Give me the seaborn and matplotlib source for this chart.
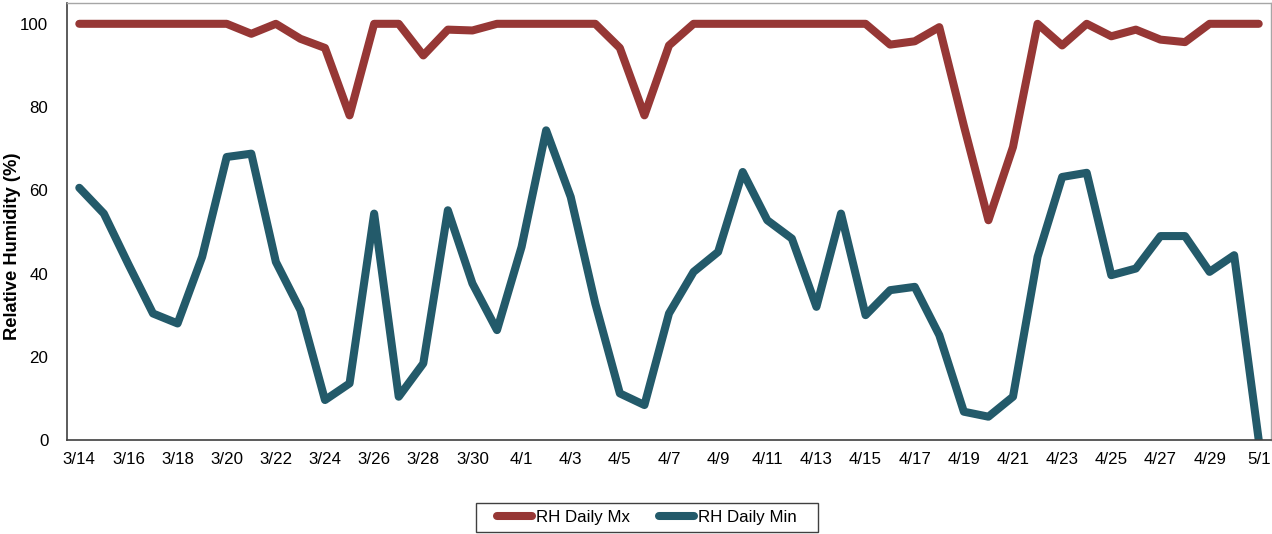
import matplotlib
matplotlib.use("Agg")
import matplotlib.pyplot as plt
from matplotlib.patches import Rectangle
import numpy as np
import pandas as pd
import seaborn as sns

# Daily relative humidity, 3/14 through 5/1
dates = pd.date_range("2020-03-14", "2020-05-01", freq="D")
day_labels = [f"{d.month}/{d.day}" for d in dates]

rh_max = [100, 100, 100, 100, 100, 100, 100, 97.6, 100, 96.4,
          94.2, 78, 100, 100, 92.4, 98.6, 98.4, 100, 100, 100,
          100, 100, 94.2, 78, 94.8, 100, 100, 100, 100, 100,
          100, 100, 100, 95, 95.8, 99.2, 75.5, 52.8, 70.4, 100,
          94.8, 100, 97, 98.6, 96.2, 95.6, 100, 100, 100]

rh_min = [60.6, 54.4, 42.2, 30.4, 28, 44, 68, 68.8, 42.8, 31.2,
          9.6, 13.6, 54.4, 10.4, 18.4, 55.2, 37.6, 26.4, 46.4, 74.4,
          58.4, 32.8, 11.2, 8.4, 30.4, 40.4, 45.2, 64.4, 52.8, 48.4,
          32, 54.4, 30, 36, 36.8, 25.2, 6.8, 5.6, 10.4, 44,
          63.2, 64.2, 39.6, 41.2, 49, 49, 40.4, 44.4, 0]

series_names = ["RH Daily Mx", "RH Daily Min"]
series_colors = ["#963735", "#235a6a"]

idx = np.arange(len(day_labels))
df = pd.DataFrame({
    "day": np.concatenate([idx, idx]),
    "rh": rh_max + rh_min,
    "series": [series_names[0]] * len(idx) + [series_names[1]] * len(idx),
})

sns.set_theme(style="white")
plt.rcParams["font.family"] = ["Liberation Sans", "DejaVu Sans"]
plt.rcParams["text.color"] = "black"
plt.rcParams["axes.labelcolor"] = "black"
plt.rcParams["xtick.color"] = "black"
plt.rcParams["ytick.color"] = "black"

FS = 12.2
W, H = 1272, 534

fig = plt.figure(figsize=(W / 100, H / 100), dpi=100)
ax = fig.add_axes([67 / W, 1 - 440 / H, (1271 - 67) / W, (440 - 3) / H])

sns.lineplot(data=df, x="day", y="rh", hue="series", hue_order=series_names,
             palette=series_colors, linewidth=5.8, ax=ax, legend=False,
             solid_capstyle="round", solid_joinstyle="round")

ax.set_xlim(-0.5, len(idx) - 0.5)
ax.set_ylim(0, 105)

# Tick marks sit on category boundaries, labels every second day
ax.set_xticks(idx[::2])
ax.set_xticklabels(day_labels[::2], fontsize=FS)
ax.set_xticks(np.arange(-0.5, len(idx) - 0.5, 2), minor=True)
ax.tick_params(axis="x", which="major", length=0, pad=8.5)
ax.tick_params(axis="x", which="minor", length=5, width=1, color="#404040", direction="out")

ax.set_yticks([0, 20, 40, 60, 80, 100])
ax.tick_params(axis="y", length=5, width=1, color="#404040", direction="out",
               labelsize=FS, pad=8.5)
ax.set_ylabel("Relative Humidity (%)", fontsize=13.2, fontweight="bold")
ax.yaxis.set_label_coords(-0.038, 0.444)
ax.set_xlabel("")

for side in ("left", "bottom"):
    ax.spines[side].set_color("#404040")
    ax.spines[side].set_linewidth(1.2)
for side in ("top", "right"):
    ax.spines[side].set_color("#a6a6a6")
    ax.spines[side].set_linewidth(1.0)

# Legend below the plot, boxed
handles = [plt.Line2D([], [], color=c, linewidth=5.8, solid_capstyle="round")
           for c in series_colors]
fig.legend(handles, series_names, loc="center",
           bbox_to_anchor=(647 / W, 1 - 517.5 / H),
           ncol=2, fontsize=FS, frameon=False,
           handlelength=2.05, handletextpad=0.25, columnspacing=1.7,
           borderpad=0.0)
fig.patches.append(Rectangle((476 / W, 1 - 532 / H), (818 - 476) / W, (532 - 503) / H,
                             transform=fig.transFigure, fill=False,
                             edgecolor="#404040", linewidth=1.0))

fig.savefig("out.png", dpi=100)
